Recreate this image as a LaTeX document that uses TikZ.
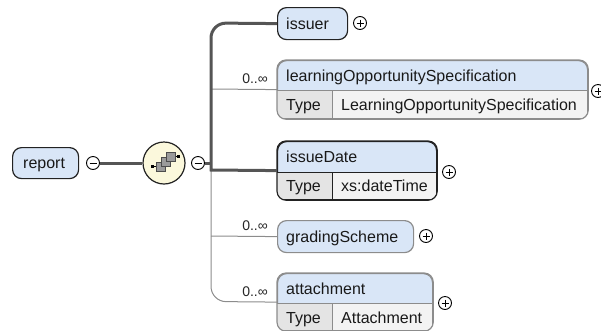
\documentclass[tikz,border=0pt]{standalone}
\usepackage{fontspec}
\setmainfont{Liberation Sans}
\definecolor{hdr}{HTML}{D9E6F7}
\definecolor{tcell}{HTML}{E4E4E4}
\definecolor{vcell}{HTML}{F3F3F3}
\definecolor{dk}{HTML}{222222}
\definecolor{optc}{HTML}{8C8C8C}
\definecolor{thickc}{HTML}{555555}
\definecolor{thinc}{HTML}{8C8C8C}
\definecolor{seqfill}{HTML}{FBF8DC}
\definecolor{sqc}{HTML}{9A9A9A}
\begin{document}
\begin{tikzpicture}[x=1pt,y=-1pt,
  font=\fontsize{16}{19}\selectfont,
  elbox/.style={rectangle, rounded corners=9, fill=hdr, line width=1.2pt, inner sep=0, anchor=north west},
  mand/.style={draw=dk},
  opt/.style={draw=optc},
  lbl/.style={anchor=base west, inner sep=0, text=black!90},
  card/.style={anchor=base east, inner sep=0, font=\fontsize{14}{16}\selectfont, text=black!85},
  pm/.style={circle, draw=black, fill=white, line width=0.9pt, minimum size=13, inner sep=0},
  thickline/.style={draw=thickc, line width=3pt},
  thinline/.style={draw=thinc, line width=1pt},
  sepline/.style={line width=1pt}]
\useasboundingbox (0,0) rectangle (601,330);

% ---- report ----
\node[elbox, mand, minimum width=66, minimum height=31] (report) at (12,147) {};
\node[lbl] (reportT) at (23,168.5) {report};
\node[pm] (rm) at (93,163) {};
\draw[line width=1pt] (rm.center) +(-3.5,0) -- +(3.5,0);

% ---- sequence compositor ----
\node[circle, draw=dk, fill=seqfill, line width=1.2pt, minimum size=42, inner sep=0] (seq) at (164,163) {};
\draw[thickline] (rm.east) -- (seq.west);
\draw[line width=1pt] (152,166.5) -- (157,166.5);
\draw[line width=1pt] (174,156.5) -- (178,156.5);
\fill[black] (150.5,165) rectangle (153.5,168);
\fill[black] (176.5,155) rectangle (179.5,158);
\draw[fill=sqc, draw=black!70, line width=0.6pt] (156,162) rectangle (165,171);
\draw[fill=sqc, draw=black!70, line width=0.6pt] (161,157.5) rectangle (170,166.5);
\draw[fill=sqc, draw=black!70, line width=0.6pt] (166,152.5) rectangle (175,161.5);
\node[pm] (sm) at (198,163) {};
\draw[line width=1pt] (sm.center) +(-3.5,0) -- +(3.5,0);

% ---- issuer ----
\node[elbox, mand, minimum width=70, minimum height=32] (issuer) at (277,7) {};
\node[lbl] (issuerT) at (286,29) {issuer};
\node[pm] (p1) at (360,23) {};
\draw[line width=1pt] (p1.center) +(-3.5,0) -- +(3.5,0) (p1.center) +(0,-3.5) -- +(0,3.5);

% ---- learningOpportunitySpecification ----
\node[elbox, opt, minimum width=310, minimum height=58] (lop) at (277,60) {};
\begin{scope}
\clip[rounded corners=9] (lop.south west) rectangle (lop.north east);
\fill[tcell] (277,90) rectangle (332,118);
\fill[vcell] (332,90) rectangle (587,118);
\end{scope}
\draw[sepline, draw=optc] (277,90) -- (587,90) (332,90) -- (332,118);
\draw[draw=optc, line width=1.2pt, rounded corners=9] (lop.south west) rectangle (lop.north east);
\node[lbl] (lopT) at (286,81) {learningOpportunitySpecification};
\node[lbl] (lopType) at (286,110) {Type};
\node[lbl] (lopVal) at (341,110) {LearningOpportunitySpecification};
\node[pm] (p2) at (598,91) {};
\draw[line width=1pt] (p2.center) +(-3.5,0) -- +(3.5,0) (p2.center) +(0,-3.5) -- +(0,3.5);
\node[card] (c2) at (268,83) {0..∞};

% ---- issueDate ----
\node[elbox, mand, minimum width=159, minimum height=58] (idate) at (277,141) {};
\begin{scope}
\clip[rounded corners=9] (idate.south west) rectangle (idate.north east);
\fill[tcell] (277,172) rectangle (332,199);
\fill[vcell] (332,172) rectangle (436,199);
\end{scope}
\draw[sepline, draw=dk] (277,172) -- (436,172) (332,172) -- (332,199);
\draw[draw=dk, line width=1.2pt, rounded corners=9] (idate.south west) rectangle (idate.north east);
\node[lbl] (idateT) at (286,162.5) {issueDate};
\node[lbl] (idateType) at (286,191.5) {Type};
\node[lbl] (idateVal) at (341,191.5) {xs:dateTime};
\node[pm] (p3) at (449,172) {};
\draw[line width=1pt] (p3.center) +(-3.5,0) -- +(3.5,0) (p3.center) +(0,-3.5) -- +(0,3.5);

% ---- gradingScheme ----
\node[elbox, opt, minimum width=136, minimum height=32] (grad) at (277,220) {};
\node[lbl] (gradT) at (286,242) {gradingScheme};
\node[pm] (p4) at (426,236) {};
\draw[line width=1pt] (p4.center) +(-3.5,0) -- +(3.5,0) (p4.center) +(0,-3.5) -- +(0,3.5);
\node[card] (c4) at (268,230) {0..∞};

% ---- attachment ----
\node[elbox, opt, minimum width=155, minimum height=57] (att) at (277,273) {};
\begin{scope}
\clip[rounded corners=9] (att.south west) rectangle (att.north east);
\fill[tcell] (277,303) rectangle (332,330);
\fill[vcell] (332,303) rectangle (432,330);
\end{scope}
\draw[sepline, draw=optc] (277,303) -- (432,303) (332,303) -- (332,330);
\draw[draw=optc, line width=1.2pt, rounded corners=9] (att.south west) rectangle (att.north east);
\node[lbl] (attT) at (286,294) {attachment};
\node[lbl] (attType) at (286,323) {Type};
\node[lbl] (attVal) at (341,323) {Attachment};
\node[pm] (p5) at (445,303) {};
\draw[line width=1pt] (p5.center) +(-3.5,0) -- +(3.5,0) (p5.center) +(0,-3.5) -- +(0,3.5);
\node[card] (c5) at (268,296) {0..∞};

% ---- connectors ----
\coordinate (busmid) at (211,170);
\draw[thinline] (busmid) [rounded corners=15] -- (211,301.5) -- (att.west);
\draw[thinline] (211,89) -- (lop.west);
\draw[thinline] (211,236) -- (grad.west);
\draw[thickline] (idate.west) -- (busmid) [rounded corners=15] -- (211,23) -- (issuer.west);
\draw[thickline] (sm.east) -- (211,163);
\end{tikzpicture}
\end{document}
